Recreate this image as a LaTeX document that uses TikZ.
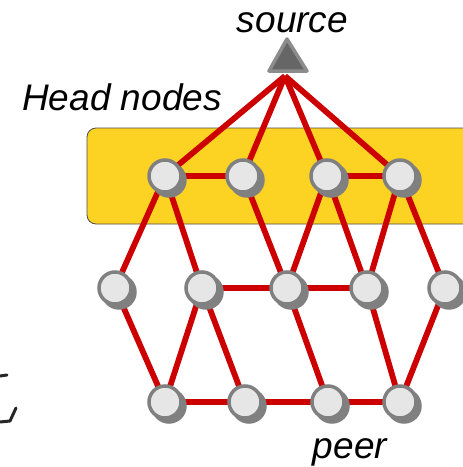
\documentclass[tikz,border=0pt]{standalone}
\usepackage{fontspec}
\setmainfont{Liberation Sans}
\definecolor{edgered}{HTML}{CC0000}
\definecolor{boxyellow}{HTML}{FDD323}
\definecolor{nodefill}{HTML}{E6E6E6}
\definecolor{nodegray}{HTML}{808080}
\begin{document}
\begin{tikzpicture}[x=1pt,y=-1pt,
  peernode/.style={circle,minimum size=32pt,inner sep=0pt,fill=nodefill,draw=nodegray,line width=3.5pt},
  peershadow/.style={circle,minimum size=35.5pt,inner sep=0pt,fill=nodegray},
  link/.style={draw=edgered,line width=5.8pt},
  lbl/.style={font=\fontsize{37}{40}\selectfont\itshape,inner sep=0pt,anchor=base}]
\useasboundingbox (0,0) rectangle (463,467);
\clip (0,0) rectangle (463,467);
% head nodes box
\draw[fill=boxyellow,draw=black!70,line width=0.8pt,rounded corners=9pt] (87,128) rectangle (480,224);
% labels
\node[lbl] (tsrc) at (292.5,32) {source};
\node[lbl] (thead) at (122,110) {Head nodes};
\node[lbl] (tpeer) at (350,458) {peer};
% source triangle
\coordinate (S) at (285,76);
\draw[fill=black!60,draw=black!45,line width=3.5pt,line join=round] (287,39) -- (307,71) -- (269,71) -- cycle;
% node positions
\foreach \n/\x/\y in {H1/165/176,H2/243/176,H3/327/176,H4/400/176,
  M1/115/288,M2/202/288,M3/287/288,M4/367/288,M5/445/288,
  B1/165/402,B2/245/402,B3/328/402,B4/400/402}{
  \coordinate (\n) at (\x,\y);
}
% edges
\foreach \a/\b in {S/H1,S/H2,S/H3,S/H4,H1/H2,H3/H4,
  H1/M1,H1/M2,H2/M3,H3/M3,H3/M4,H4/M4,H4/M5,M2/M3,M3/M4,
  M1/B1,M2/B1,M2/B2,M3/B3,M4/B4,M5/B4,B1/B2,B2/B3,B3/B4}{
  \draw[link] (\a) -- (\b);
}
% nodes
\foreach \n in {H1,H2,H3,H4,M1,M2,M3,M4,M5,B1,B2,B3,B4}{
  \node[peershadow] at ([shift={(4,4)}]\n) {};
  \node[peernode] (n\n) at (\n) {};
}
% cropped fragment at left edge
\draw[line width=3pt,black!85,line cap=round] (0,376) -- (7,375);
\draw[line width=3pt,black!85,line cap=round,line join=round] (0,422) -- (10,421) -- (16,408);
\end{tikzpicture}
\end{document}
